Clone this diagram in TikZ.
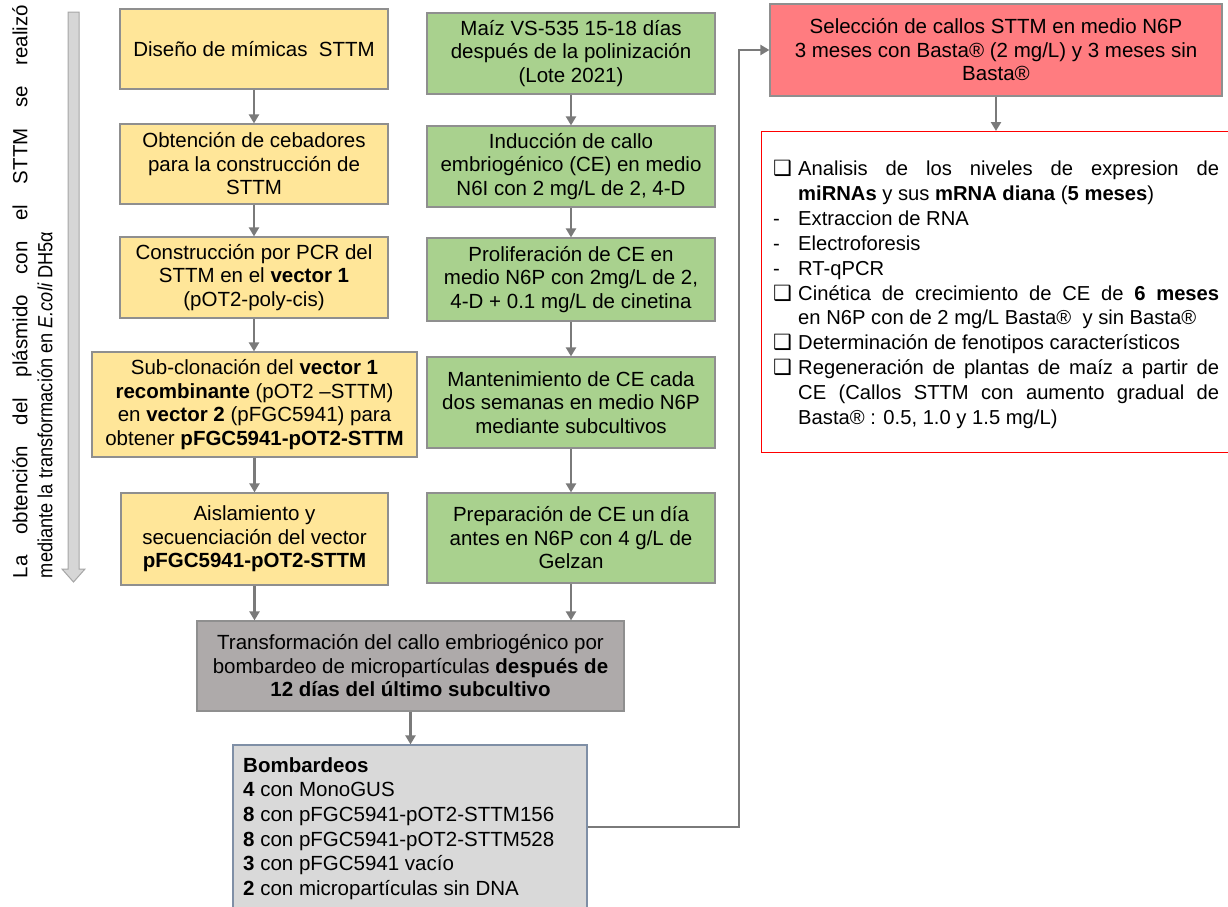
\documentclass[tikz,border=0pt]{standalone}
\usepackage{fontspec}
\setmainfont{Liberation Sans}
\newfontfamily\symfnt{DejaVu Sans}
\usetikzlibrary{arrows.meta}
\definecolor{boxyellow}{HTML}{FFE699}
\definecolor{boxgreen}{HTML}{A9D18E}
\definecolor{boxred}{HTML}{FF7C80}
\definecolor{boxdark}{HTML}{AEAAAA}
\definecolor{boxlight}{HTML}{D9D9D9}
\definecolor{bordergray}{HTML}{8F8F8F}
\definecolor{borderblue}{HTML}{7F8FA6}
\definecolor{conngray}{HTML}{7A7A7A}
\definecolor{sidefill}{HTML}{D6D6D6}
\definecolor{sideedge}{HTML}{A6A6A6}
\newcommand\bxfont{\fontsize{20.5}{23.5}\selectfont}
\newcommand\bmfont{\fontsize{20.5}{24.7}\selectfont}
\newcommand\lsfont{\fontsize{20.2}{24.9}\selectfont}
\newcommand\sdfont{\fontsize{20.5}{25}\selectfont}
\newcommand\chk{\makebox[25pt][l]{\symfnt\fontsize{21}{20}\selectfont ❑}}
\newcommand\dsh{\makebox[25pt][l]{-}}
\begin{document}
\begin{tikzpicture}[x=1pt,y=-1pt,
  box/.style={draw=bordergray, line width=1.2pt, align=center, inner sep=2pt, font=\bxfont},
  ybox/.style={box, fill=boxyellow},
  gbox/.style={box, fill=boxgreen},
  conn/.style={draw=conngray, line width=2.4pt, -{Triangle[length=9pt,width=10pt]}}]
\useasboundingbox (0,0) rectangle (1228,906);

% side arrow
\draw[fill=sidefill, draw=sideedge, line width=1pt]
  (68,12) -- (79,12) -- (79,569) -- (85,569) -- (73.5,582) -- (62,569) -- (68,569) -- cycle;
\node[rotate=90, text width=573pt, align=justify, inner sep=0pt, font=\sdfont] (side) at (32.5,291.5)
  {La obtención del plásmido con el STTM se realizó\linebreak \scalebox{0.887}[1]{mediante la transformación en \textit{E.coli} DH5α}};

% left column
\node[ybox, minimum width=268pt, minimum height=80pt] (A1) at (254,49) {Diseño de mímicas\ \ STTM};
\node[ybox, minimum width=268pt, minimum height=80pt] (A2) at (254,164) {Obtención de cebadores\\para la construcción de\\STTM};
\node[ybox, minimum width=268pt, minimum height=81pt] (A3) at (254,277.5) {Construcción por PCR del\\STTM en el \textbf{vector 1}\\(pOT2-poly-cis)};
\node[ybox, minimum width=325pt, minimum height=105pt] (A4) at (254.5,404.5) {Sub-clonación del \textbf{vector 1}\\\textbf{recombinante} (pOT2 –STTM)\\en \textbf{vector 2} (pFGC5941) para\\obtener \textbf{pFGC5941-pOT2-STTM}};
\node[ybox, minimum width=267pt, minimum height=92pt] (A5) at (254.5,539) {Aislamiento y\\secuenciación del vector\\\textbf{pFGC5941-pOT2-STTM}};

% green column
\node[gbox, minimum width=288pt, minimum height=81pt] (B1) at (571,53.5) {Maíz VS-535 15-18 días\\después de la polinización\\(Lote 2021)};
\node[gbox, minimum width=288pt, minimum height=81pt] (B2) at (571,166.5) {Inducción de callo\\embriogénico (CE) en medio\\N6I con 2 mg/L de 2, 4-D};
\node[gbox, minimum width=288pt, minimum height=83pt] (B3) at (571,279.5) {Proliferación de CE en\\medio N6P con 2mg/L de 2,\\4-D + 0.1 mg/L de cinetina};
\node[gbox, minimum width=288pt, minimum height=91pt] (B4) at (571,402.5) {Mantenimiento de CE cada\\dos semanas en medio N6P\\mediante subcultivos};
\node[gbox, minimum width=288pt, minimum height=90pt] (B5) at (571,538) {Preparación de CE un día\\antes en N6P con 4 g/L de\\Gelzan};

% transformation
\node[box, fill=boxdark, minimum width=427pt, minimum height=90pt] (T) at (410.5,666) {Transformación del callo embriogénico por\\bombardeo de micropartículas \textbf{después de}\\\textbf{12 días del último subcultivo}};

% bombardeos
\node[draw=borderblue, line width=1.2pt, fill=boxlight, minimum width=354pt, minimum height=164pt] (bomb) at (410,827) {};
\node[anchor=north west, align=left, inner sep=0pt, font=\bmfont] (bombtext) at (243,757)
  {\textbf{Bombardeos}\\\textbf{4} con MonoGUS\\\textbf{8} con pFGC5941-pOT2-STTM156\\\textbf{8} con pFGC5941-pOT2-STTM528\\\textbf{3} con pFGC5941 vacío\\\textbf{2} con micropartículas sin DNA};

% selection
\node[box, fill=boxred, minimum width=452pt, minimum height=92pt] (S) at (996,50) {Selección de callos STTM en medio N6P\\3 meses con Basta® (2 mg/L) y 3 meses sin\\Basta®};

% list box
\node[draw=red, line width=1pt, fill=white, minimum width=471pt, minimum height=321pt, anchor=north west, inner sep=0pt] (L) at (761,131) {};
\node[anchor=north west, text width=446pt, align=justify, inner sep=0pt, font=\lsfont] (Ltext) at (773,160) {%
\hangindent=25pt\hangafter=1\noindent\chk Analisis de los niveles de expresion de\linebreak \textbf{miRNAs} y sus \textbf{mRNA diana} (\textbf{5 meses})\par
\noindent\dsh Extraccion de RNA\par
\noindent\dsh Electroforesis\par
\noindent\dsh RT-qPCR\par
\hangindent=25pt\hangafter=1\noindent\chk Cinética de crecimiento de CE de \textbf{6 meses}\linebreak en N6P con de 2 mg/L Basta®\ \ y sin Basta®\par
\hangindent=25pt\hangafter=1\noindent\chk Determinación de fenotipos característicos\par
\hangindent=25pt\hangafter=1\noindent\chk Regeneración de plantas de maíz a partir de\linebreak CE (Callos STTM con aumento gradual de\linebreak Basta® : 0.5, 1.0 y 1.5 mg/L)\par};

% connectors
\draw[conn] (A1.south) -- (A1.south |- A2.north);
\draw[conn] (A2.south) -- (A2.south |- A3.north);
\draw[conn] (A3.south) -- (A3.south |- A4.north);
\draw[conn] (A4.south) -- (A4.south |- A5.north);
\draw[conn] (A5.south) -- (A5.south |- T.north);
\draw[conn] (B1.south) -- (B1.south |- B2.north);
\draw[conn] (B2.south) -- (B2.south |- B3.north);
\draw[conn] (B3.south) -- (B3.south |- B4.north);
\draw[conn] (B4.south) -- (B4.south |- B5.north);
\draw[conn] (B5.south) -- (B5.south |- T.north);
\draw[conn] (T.south) -- (T.south |- bomb.north);
\coordinate (bend) at (739,50);
\draw[conn] (bomb.east) -| (bend) -- (S.west);
\draw[conn] (S.south) -- (S.south |- L.north);
\end{tikzpicture}
\end{document}
